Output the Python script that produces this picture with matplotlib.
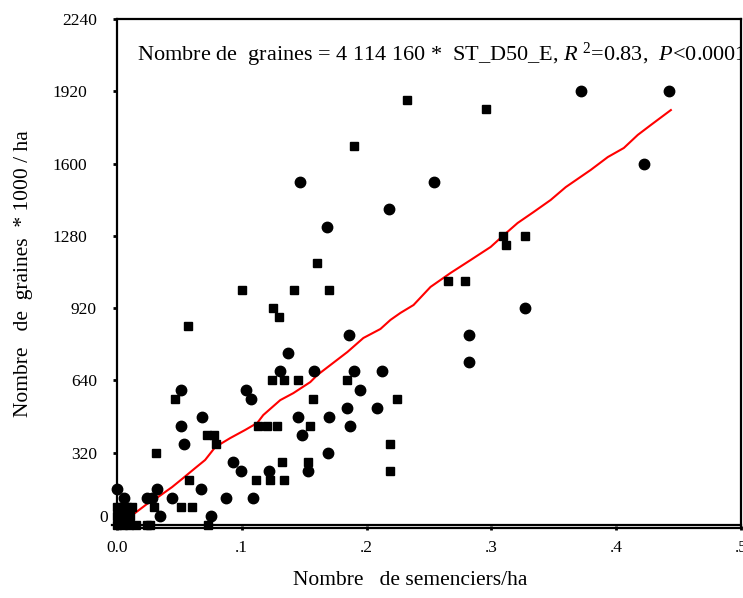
import numpy as np
import matplotlib
matplotlib.use('Agg')
import matplotlib.pyplot as plt

plt.rcParams['font.family'] = ['Liberation Serif', 'DejaVu Serif']
plt.rcParams['mathtext.fontset'] = 'custom'
plt.rcParams['mathtext.rm'] = 'Liberation Serif'
plt.rcParams['mathtext.it'] = 'Liberation Serif:italic'

# observations drawn as round markers (semenciers/ha, graines*1000/ha)
circ_x = [0.442, 0.372, 0.422, 0.147, 0.254, 0.218, 0.168, 0.327, 0.282, 0.282,
          0.186, 0.137, 0.131, 0.158, 0.190, 0.212, 0.1035, 0.107, 0.195, 0.184,
          0.208, 0.145, 0.170, 0.187, 0.153, 0.122, 0.109, 0.169, 0.051, 0.068,
          0.051, 0.054, 0.0, 0.032, 0.067, 0.0056, 0.024, 0.028, 0.044, 0.0875,
          0.0345, 0.075, 0.0995, 0.093, 0.148]
circ_y = [1920, 1920, 1600, 1520, 1520, 1400, 1320, 960, 840, 720,
          840, 760, 680, 680, 680, 680, 600, 560, 600, 520,
          520, 480, 480, 440, 240, 240, 120, 320, 600, 480,
          440, 360, 160, 160, 160, 120, 120, 120, 120, 120,
          40, 40, 240, 280, 400]

# observations drawn as square markers
sq_x = [0.232, 0.296, 0.190, 0.160, 0.170, 0.100, 0.142, 0.125, 0.130, 0.057,
        0.0465, 0.031, 0.072, 0.078, 0.0795, 0.124, 0.134, 0.145, 0.184, 0.157,
        0.1204, 0.128, 0.113, 0.155, 0.1324, 0.1533, 0.1116, 0.1228, 0.134, 0.0578,
        0.2247, 0.2191, 0.2191, 0.309, 0.312, 0.327, 0.265, 0.2785, 0.0514, 0.0602,
        0.0, 0.004, 0.008, 0.012, 0.0297, 0.0, 0.004, 0.0104, 0.0,
        0.005, 0.010, 0.015, 0.024, 0.0265, 0.073]
sq_y = [1880, 1840, 1680, 1160, 1040, 1040, 1040, 960, 920, 880,
        560, 320, 400, 400, 360, 640, 640, 640, 640, 560,
        440, 440, 440, 440, 280, 280, 200, 200, 200, 200,
        560, 360, 240, 1280, 1240, 1280, 1080, 1080, 80, 80,
        80, 80, 80, 80, 80, 40, 40, 40, 0,
        0, 0, 0, 0, 0, 0]

# fitted curve (red)
fit_x = [0.0008, 0.0144, 0.0249, 0.0329, 0.0441, 0.053, 0.0626, 0.0706, 0.0787, 0.0907,
         0.1027, 0.1124, 0.1172, 0.1308, 0.1413, 0.1549, 0.1605, 0.1709, 0.1846, 0.1974,
         0.2111, 0.2191, 0.2271, 0.2376, 0.2512, 0.2673, 0.2833, 0.2994, 0.309, 0.321,
         0.3339, 0.3475, 0.3596, 0.3796, 0.3933, 0.4061, 0.4173, 0.4278, 0.4438]
fit_y = [9, 53, 97, 124, 168, 208, 252, 288, 345, 385,
         421, 452, 487, 553, 584, 633, 664, 708, 766, 828,
         868, 908, 939, 974, 1054, 1116, 1173, 1231, 1279, 1337,
         1386, 1439, 1496, 1572, 1629, 1669, 1727, 1771, 1837]

ytick_pos = [40, 320, 640, 960, 1280, 1600, 1920, 2240]
ytick_lab = ['0', '320', '640', '920', '1280', '1600', '1920', '2240']
xtick_pos = [0.0, 0.1, 0.2, 0.3, 0.4, 0.5]
xtick_lab = ['0.0', '.1', '.2', '.3', '.4', '.5']

fig = plt.figure(figsize=(7.43, 5.98), dpi=100)
ax = fig.add_axes([117/743, 70/598, 624/743, 509/598])

ax.plot(fit_x, fit_y, color='red', lw=1.5, zorder=3)
ax.plot(circ_x, circ_y, 'o', color='black', ms=7.5, mec='black', zorder=4, clip_on=False)
ax.plot(sq_x, sq_y, 's', color='black', ms=6.2, mec='black', zorder=4, clip_on=False)

# second horizontal line above the bottom spine
ax.plot([-0.004, 0.5], [0, 0], color='black', lw=1.6, clip_on=False, zorder=2)

ax.set_xlim(0, 0.5)
ax.set_ylim(-13, 2240)
ax.set_xticks(xtick_pos)
ax.set_xticklabels(xtick_lab)
ax.set_yticks(ytick_pos)
ax.set_yticklabels(ytick_lab)
ax.tick_params(axis='y', direction='out', length=3, width=2, labelsize=12.5)
ax.tick_params(axis='x', direction='inout', length=3, width=2, labelsize=12.5, pad=7)
# the old SAS output does not right-align its y labels on one edge
for tick, lab in zip(ax.yaxis.get_major_ticks(), ytick_lab):
    if lab == '0':
        tick.set_pad(3.5)
    elif len(lab) == 4 and lab != '2240':
        tick.set_pad(18.5)
    else:
        tick.set_pad(11.5)
for s in ax.spines.values():
    s.set_linewidth(1.6)

ax.set_ylabel('Nombre   de  graines  * 1000 / ha', fontsize=15.5)
ax.yaxis.set_label_coords(-0.135, 0.5)
ax.set_xlabel('Nombre   de semenciers/ha', fontsize=15.5)
ax.xaxis.set_label_coords(0.47, -0.085)

# regression equation
ax.text(0.032, 0.9175,
        r'Nombre de  graines = 4 114 160 *  ST_D50_E, $R^{\ 2}$=0.83,  $P$<0.0001',
        transform=ax.transAxes, fontsize=16, va='baseline', ha='left', clip_on=True)

fig.savefig('out.png', dpi=100)
